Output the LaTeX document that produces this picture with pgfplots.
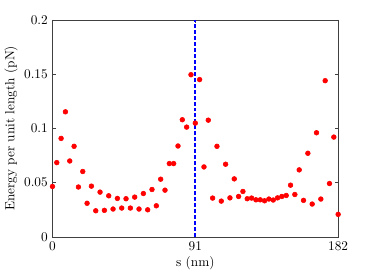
\documentclass[border=0pt]{standalone}
\usepackage{pgfplots}
\pgfplotsset{compat=1.18}
\definecolor{mblue}{RGB}{0,0,255}
\definecolor{mred}{RGB}{255,0,0}
\begin{document}
\begin{tikzpicture}
\begin{axis}[
  scale only axis,
  width=215.25pt, height=163.5pt,
  xmin=0, xmax=182, ymin=0, ymax=0.2,
  xtick={0,91,182},
  ytick={0,0.05,0.1,0.15,0.2},
  yticklabels={0,0.05,0.1,0.15,0.2},
  tick align=inside,
  major tick length=2.5pt,
  axis line style={black!75, line width=0.4pt},
  every tick/.style={black!75, line width=0.4pt},
  xlabel={s (nm)},
  ylabel={Energy per unit length (pN)},
  xlabel style={yshift=2pt},
  ylabel style={yshift=-2pt},
  clip=false,
]
\addplot[draw=mblue, line width=1.4pt, dash pattern=on 3pt off 1.5pt, no marks, forget plot] coordinates {(91,0) (91,0.2)};
\addplot[only marks, mark=*, mark size=1.8pt, color=mred, mark options={fill=mred, draw=mred}] coordinates {
(0.00,0.0465) (2.76,0.0685) (5.52,0.0908) (8.27,0.1153) (11.03,0.0700)
(13.79,0.0835) (16.55,0.0460) (19.30,0.0603) (22.06,0.0310) (24.82,0.0468)
(27.58,0.0241) (30.33,0.0413) (33.09,0.0245) (35.85,0.0379) (38.61,0.0257)
(41.36,0.0355) (44.12,0.0266) (46.88,0.0352) (49.64,0.0266) (52.39,0.0367)
(55.15,0.0257) (57.91,0.0400) (60.67,0.0250) (63.42,0.0437) (66.18,0.0287)
(68.94,0.0532) (71.70,0.0431) (74.45,0.0676) (77.21,0.0676) (79.97,0.0838)
(82.73,0.1080) (85.48,0.1012) (88.24,0.1495) (91.00,0.1049) (93.76,0.1450)
(96.52,0.0645) (99.27,0.1076) (102.03,0.0358) (104.79,0.0835) (107.55,0.0330)
(110.30,0.0670) (113.06,0.0360) (115.82,0.0535) (118.58,0.0373) (121.33,0.0419)
(124.09,0.0352) (126.85,0.0358) (129.61,0.0342) (132.36,0.0342) (135.12,0.0333)
(137.88,0.0349) (140.64,0.0340) (143.39,0.0360) (146.15,0.0373) (148.91,0.0382)
(151.67,0.0477) (154.42,0.0391) (157.18,0.0618) (159.94,0.0337) (162.70,0.0771)
(165.45,0.0303) (168.21,0.0960) (170.97,0.0349) (173.73,0.1440) (176.48,0.0492)
(179.24,0.0920) (182.00,0.0208)
};
\path[use as bounding box] (rel axis cs:0,0) ++(-38.25pt,-31.5pt) rectangle ([xshift=27pt,yshift=15pt]rel axis cs:1,1);
\end{axis}
\end{tikzpicture}
\end{document}
